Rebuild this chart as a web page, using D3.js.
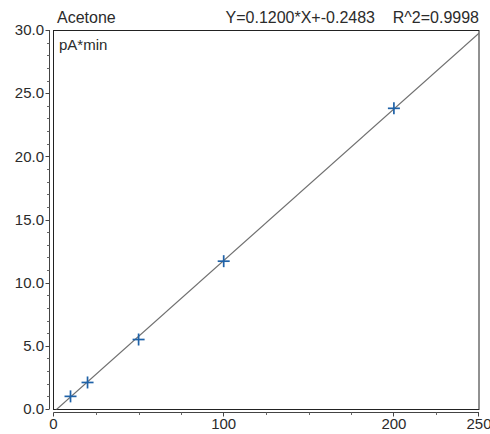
<!DOCTYPE html>
<html>
<head>
<meta charset="utf-8">
<script src="https://cdn.jsdelivr.net/npm/d3@7"></script>
<style>
  html, body { margin: 0; padding: 0; background: #fff; }
  svg { display: block; font-family: "Liberation Sans", Arial, sans-serif; }
</style>
</head>
<body>
<svg id="chart" width="490" height="434"></svg>
<script>
// Calibration standards for acetone (amount vs. peak area)
const compound = "Acetone";
const amounts = [10, 20, 50, 100, 200];
const areas = [1.0, 2.1, 5.5, 11.7, 23.8];
const slope = 0.1200;
const intercept = -0.2483;
const rSquared = 0.9998;
const yUnit = "pA*min";
const xMajorTicks = [0, 100, 200, 250];
const yMajorTicks = [0, 5, 10, 15, 20, 25, 30];

const svg = d3.select("#chart");
const box = { left: 53, right: 479, top: 30, bottom: 409 };

const x = d3.scaleLinear().domain([0, 250]).range([box.left + 0.5, box.right]);
const y = d3.scaleLinear().domain([0, 30]).range([box.bottom, box.top]);

const textColor = "#2b2b2b";
const axisColor = "#444";

// plot frame
svg.append("rect")
  .attr("x", box.left + 0.5).attr("y", box.top + 0.5)
  .attr("width", box.right - box.left - 0.5).attr("height", box.bottom - box.top)
  .attr("fill", "none").attr("stroke", "#222").attr("stroke-width", 1);

// y axis, set slightly apart from the frame
const yAxisX = 49.5;
svg.append("line")
  .attr("x1", yAxisX).attr("x2", yAxisX)
  .attr("y1", y(30)).attr("y2", y(0))
  .attr("stroke", axisColor);
const yMinor = d3.range(0, 31, 1).filter(v => v % 5 !== 0);
svg.selectAll(".yminor").data(yMinor).join("line")
  .attr("x1", yAxisX - 2.5).attr("x2", yAxisX)
  .attr("y1", d => Math.round(y(d)) + 0.5).attr("y2", d => Math.round(y(d)) + 0.5)
  .attr("stroke", "#666");
svg.selectAll(".ymajor").data(yMajorTicks).join("line")
  .attr("x1", yAxisX - 4).attr("x2", yAxisX)
  .attr("y1", d => Math.round(y(d)) + 0.5).attr("y2", d => Math.round(y(d)) + 0.5)
  .attr("stroke", axisColor);
svg.selectAll(".ylabel").data(yMajorTicks).join("text")
  .attr("x", 44).attr("y", d => y(d))
  .attr("dy", "0.35em")
  .attr("text-anchor", "end")
  .attr("font-size", 15).attr("fill", textColor)
  .text(d => d3.format(".1f")(d));

// x axis, set slightly below the frame
const xAxisY = 412.5;
svg.append("line")
  .attr("x1", x(0)).attr("x2", x(250))
  .attr("y1", xAxisY).attr("y2", xAxisY)
  .attr("stroke", axisColor);
const xMinor = d3.range(0, 251, 25).filter(v => !xMajorTicks.includes(v));
svg.selectAll(".xminor").data(xMinor).join("line")
  .attr("x1", d => Math.round(x(d)) + 0.5).attr("x2", d => Math.round(x(d)) + 0.5)
  .attr("y1", xAxisY).attr("y2", xAxisY + 2.5)
  .attr("stroke", "#666");
svg.selectAll(".xmajor").data(xMajorTicks).join("line")
  .attr("x1", d => Math.round(x(d)) - 0.5).attr("x2", d => Math.round(x(d)) - 0.5)
  .attr("y1", xAxisY).attr("y2", xAxisY + 4)
  .attr("stroke", axisColor);
svg.selectAll(".xlabel").data(xMajorTicks).join("text")
  .attr("x", d => x(d)).attr("y", 429)
  .attr("text-anchor", "middle")
  .attr("font-size", 15).attr("fill", textColor)
  .text(d => d);

// header texts
svg.append("text")
  .attr("x", 57).attr("y", 23)
  .attr("font-size", 16).attr("fill", textColor)
  .text(compound);
svg.append("text")
  .attr("x", 479).attr("y", 23)
  .attr("text-anchor", "end")
  .attr("font-size", 16).attr("fill", textColor)
  .attr("xml:space", "preserve")
  .text(`Y=${slope.toFixed(4)}*X+${intercept.toFixed(4)}    R^2=${rSquared.toFixed(4)}`);
svg.append("text")
  .attr("x", 59).attr("y", 50)
  .attr("font-size", 15).attr("fill", textColor)
  .text(yUnit);

// regression line, clipped to the plot frame
svg.append("clipPath").attr("id", "plotclip")
  .append("rect")
  .attr("x", box.left + 1).attr("y", box.top + 1)
  .attr("width", box.right - box.left - 1).attr("height", box.bottom - box.top - 0.5);
const fitX = [0, 250];
svg.append("path")
  .attr("clip-path", "url(#plotclip)")
  .attr("d", d3.line().x(d => x(d)).y(d => y(slope * d + intercept))(fitX))
  .attr("fill", "none")
  .attr("stroke", "#707070")
  .attr("stroke-width", 1.2);

// calibration points as plus markers
const pts = amounts.map((a, i) => ({ a, v: areas[i] }));
const half = 6;
const marks = svg.selectAll(".pt").data(pts).join("g")
  .attr("transform", d => `translate(${x(d.a)},${y(d.v)})`);
marks.append("line")
  .attr("x1", -half).attr("x2", half).attr("y1", 0).attr("y2", 0)
  .attr("stroke", "#1f62a8").attr("stroke-width", 1.7);
marks.append("line")
  .attr("x1", 0).attr("x2", 0).attr("y1", -half).attr("y2", half)
  .attr("stroke", "#1f62a8").attr("stroke-width", 1.7);
</script>
</body>
</html>
